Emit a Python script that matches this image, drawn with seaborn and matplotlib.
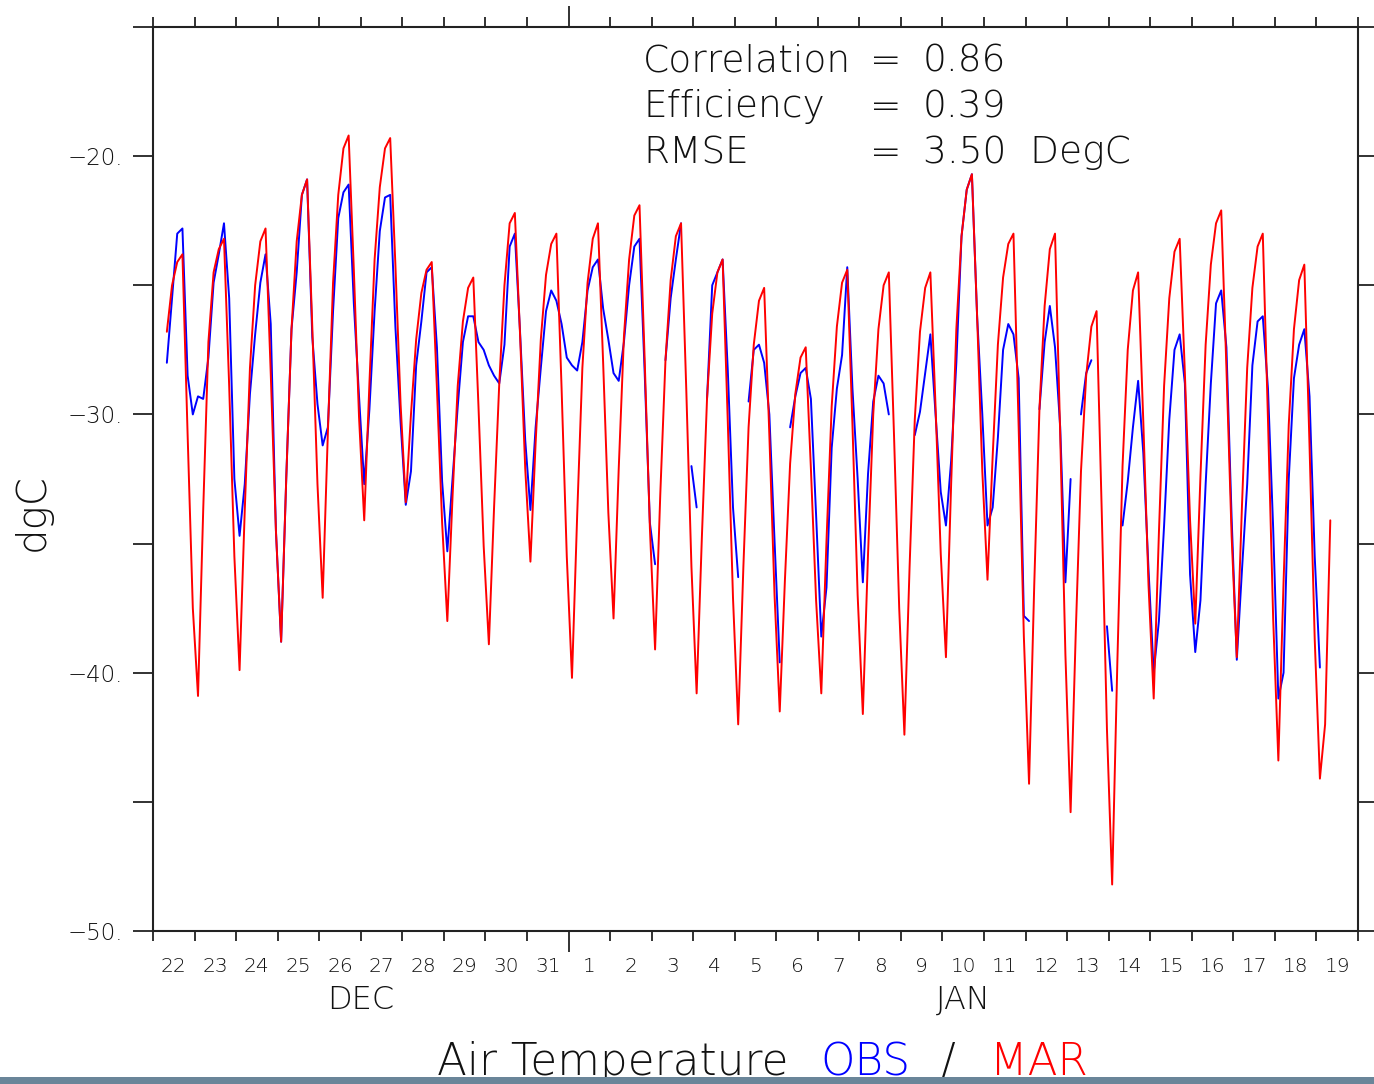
import numpy as np
import pandas as pd
import matplotlib
matplotlib.use("Agg")
import matplotlib.pyplot as plt
import seaborn as sns
from matplotlib.patches import Rectangle
from matplotlib.ticker import NullFormatter, FixedLocator, FixedFormatter

# ---------------- data (3-hourly readings, days counted from 22 Dec 00h) ----
hours_first_day = [8, 11, 14, 17, 20, 23]          # 22 Dec
hours_full_day = [2, 5, 8, 11, 14, 17, 20, 23]     # 23 Dec .. 18 Jan
hours_last_day = [2, 5, 8]                         # 19 Jan

# MAR model air temperature (degC)
mar_dec = [
    -26.8, -25.0, -24.1, -23.8, -30.8, -37.5,
    -40.9, -33.7, -27.2, -24.5, -23.6, -23.2, -28.9, -35.5,
    -39.9, -33.7, -28.2, -25.0, -23.3, -22.8, -28.4, -34.5,
    -38.8, -32.4, -26.7, -23.3, -21.5, -20.9, -26.6, -32.7,
    -37.1, -30.7, -24.9, -21.5, -19.7, -19.2, -24.4, -30.1,
    -34.1, -28.8, -24.0, -21.2, -19.7, -19.3, -24.2, -29.6,
    -33.4, -30.0, -27.1, -25.3, -24.4, -24.1, -29.0, -34.2,
    -38.0, -33.2, -28.9, -26.4, -25.1, -24.7, -29.7, -35.1,
    -38.9, -33.6, -28.8, -25.0, -22.6, -22.2, -26.9, -32.1,
    -35.7, -31.1, -27.1, -24.6, -23.4, -23.0, -29.0, -35.5,
]
mar_jan = [
    -40.2, -33.9, -28.2, -24.9, -23.2, -22.6, -28.0, -33.8,
    -37.9, -32.1, -27.0, -24.0, -22.3, -21.9, -27.9, -34.4,
    -39.1, -33.1, -27.9, -24.8, -23.1, -22.6, -29.0, -35.9,
    -40.8, -34.8, -29.4, -26.1, -24.5, -24.0, -30.3, -37.1,
    -42.0, -35.9, -30.5, -27.3, -25.6, -25.1, -30.8, -37.0,
    -41.5, -36.4, -31.9, -29.2, -27.8, -27.4, -32.1, -37.2,
    -40.8, -34.9, -29.7, -26.6, -24.9, -24.4, -30.4, -37.0,
    -41.6, -35.4, -30.0, -26.7, -25.0, -24.5, -30.8, -37.5,
    -42.4, -35.9, -30.2, -26.8, -25.1, -24.5, -29.7, -35.4,
    -39.4, -32.7, -26.7, -23.1, -21.3, -20.7, -26.2, -32.2,
    -36.4, -31.6, -27.3, -24.7, -23.4, -23.0, -30.5, -38.6,
    -44.3, -36.6, -29.8, -25.8, -23.6, -23.0, -30.8, -39.3,
    -45.4, -38.4, -32.2, -28.5, -26.6, -26.0, -33.8, -42.2,
    -48.2, -39.6, -32.0, -27.5, -25.2, -24.5, -30.3, -36.6,
    -41.0, -34.6, -28.9, -25.5, -23.7, -23.2, -28.4, -34.1,
    -38.1, -32.4, -27.3, -24.2, -22.6, -22.1, -28.2, -34.7,
    -39.4, -33.5, -28.2, -25.1, -23.5, -23.0, -30.2, -37.9,
    -43.4, -36.5, -30.4, -26.7, -24.8, -24.2, -31.2, -38.7,
    -44.1, -42.0, -34.1,
]

# Observed air temperature (degC), None = missing
obs_dec = [
    -28.0, -25.5, -23.0, -22.8, -28.5, -30.0,
    -29.3, -29.4, -27.8, -24.9, -23.8, -22.6, -25.5, -32.5,
    -34.7, -32.7, -29.2, -26.9, -24.9, -23.8, -26.5, -34.5,
    -38.8, -32.4, -26.7, -24.5, -21.5, -20.9, -27.0, -29.6,
    -31.2, -30.5, -26.0, -22.4, -21.4, -21.1, -25.7, -29.3,
    -32.7, -29.8, -26.0, -22.9, -21.6, -21.5, -26.6, -30.3,
    -33.5, -32.2, -28.1, -26.4, -24.5, -24.3, -27.4, -32.6,
    -35.3, -32.5, -29.7, -27.2, -26.2, -26.2, -27.2, -27.5,
    -28.1, -28.5, -28.8, -27.3, -23.5, -23.0, -26.8, -31.0,
    -33.7, -30.5, -28.2, -26.0, -25.2, -25.6, -26.5, -27.8,
]
obs_jan = [
    -28.1, -28.3, -27.2, -25.2, -24.3, -24.0, -25.9, -27.1,
    -28.4, -28.7, -27.2, -25.0, -23.5, -23.2, -28.4, -34.2,
    -35.8, None, -27.9, -25.5, -24.0, -22.6, None, -32.0,
    -33.6, None, -29.4, -25.0, -24.5, -24.0, -28.3, -33.6,
    -36.3, None, -29.5, -27.5, -27.3, -28.0, -30.0, -34.9,
    -39.6, None, -30.5, -29.3, -28.4, -28.2, -29.4, -33.9,
    -38.6, -36.7, -31.3, -29.0, -27.7, -24.3, -29.0, -32.5,
    -36.5, -32.3, -29.5, -28.5, -28.8, -30.0, None, None,
    None, None, -30.8, -29.9, -28.4, -26.9, -30.0, -33.0,
    -34.3, -31.8, -28.0, -23.1, -21.3, -20.7, -26.2, -30.0,
    -34.3, -33.6, -30.9, -27.5, -26.5, -26.9, -28.6, -37.8,
    -38.0, None, -29.8, -27.2, -25.8, -27.4, -30.5, -36.5,
    -32.5, None, -30.0, -28.4, -27.9, None, None, -38.2,
    -40.7, None, -34.3, -32.6, -30.5, -28.7, -31.5, -36.0,
    -40.0, -38.0, -34.3, -30.2, -27.5, -26.9, -28.8, -36.2,
    -39.2, -37.2, -32.7, -28.8, -25.7, -25.2, -27.4, -34.0,
    -39.5, -36.0, -32.7, -28.1, -26.4, -26.2, -29.0, -34.4,
    -41.0, -40.0, -32.5, -28.6, -27.3, -26.7, -29.3, -35.5,
    -39.8, None, None,
]

day_labels = ["22", "23", "24", "25", "26", "27", "28", "29", "30", "31",
              "1", "2", "3", "4", "5", "6", "7", "8", "9", "10",
              "11", "12", "13", "14", "15", "16", "17", "18", "19"]
month_labels = ["DEC", "JAN"]
y_label_values = [-50, -40, -30, -20]
y_label_texts = ["\u221250.", "\u221240.", "\u221230.", "\u221220."]
stat_names = ["Correlation", "Efficiency", "RMSE"]
stat_values = ["0.86", "0.39", "3.50  DegC"]
title_parts = ["Air Temperature", "OBS", "/", "MAR"]

# ---------------- build table ----------------
n_days = len(day_labels)
times = [h / 24 for h in hours_first_day]
for d in range(1, n_days - 1):
    times += [d + h / 24 for h in hours_full_day]
times += [(n_days - 1) + h / 24 for h in hours_last_day]

mar = np.array(mar_dec + mar_jan, dtype=float)
obs = np.array([np.nan if v is None else v for v in obs_dec + obs_jan], dtype=float)
df = pd.DataFrame({"t": times, "mar": mar, "obs": obs})
df["seg"] = np.cumsum(np.isnan(df["obs"].values))
obs_df = df.dropna(subset=["obs"])

# ---------------- figure ----------------
sns.set_style("white")
plt.rcParams["font.family"] = ["DejaVu Sans"]
TXT = "#111111"
FW = "light"
W, H = 1374, 1084
fig = plt.figure(figsize=(W / 100, H / 100), dpi=100)
fig.patch.set_facecolor("white")
ax = fig.add_axes([153 / W, 1 - 931 / H, 1205 / W, 904 / H])

sns.lineplot(data=obs_df, x="t", y="obs", units="seg", estimator=None,
             color="#0000ff", linewidth=1.4, ax=ax, legend=False)
sns.lineplot(data=df, x="t", y="mar", estimator=None,
             color="#ff0000", linewidth=1.4, ax=ax, legend=False)

ax.set_xlim(0, n_days)
ax.set_ylim(-50, -15)
ax.set_xlabel("")
ax.set_ylabel("")

for s in ax.spines.values():
    s.set_visible(True)
    s.set_linewidth(1.5)
    s.set_color("#222222")

# x ticks: long tick at the month boundary, short ticks at each day
month_break = day_labels.index("1")
ax.xaxis.set_major_locator(FixedLocator([month_break]))
ax.xaxis.set_minor_locator(FixedLocator([i for i in range(n_days + 1) if i != month_break]))
ax.xaxis.set_major_formatter(NullFormatter())
ax.xaxis.set_minor_formatter(NullFormatter())
ax.tick_params(axis="x", which="major", direction="out", length=15, width=1.3,
               color="#222222", top=True, bottom=True, labelbottom=False)
ax.tick_params(axis="x", which="minor", direction="out", length=7.5, width=1.3,
               color="#222222", top=True, bottom=True, labelbottom=False)

sec = ax.secondary_xaxis("bottom")
sec.xaxis.set_major_locator(FixedLocator([i + 0.5 for i in range(n_days)]))
sec.xaxis.set_major_formatter(FixedFormatter(day_labels))
sec.tick_params(length=0, pad=19, labelsize=14.5, colors=TXT)
sec.spines["bottom"].set_visible(False)
for lab in sec.get_xticklabels():
    lab.set_fontweight(FW)

ax.text(month_break / 2, -0.076, month_labels[0], transform=ax.get_xaxis_transform(),
        ha="center", va="center", fontsize=23, color=TXT, fontweight=FW)
ax.text((month_break + n_days) / 2, -0.076, month_labels[1], transform=ax.get_xaxis_transform(),
        ha="center", va="center", fontsize=23, color=TXT, fontweight=FW)

# y ticks
ax.yaxis.set_major_locator(FixedLocator(y_label_values))
ax.yaxis.set_major_formatter(FixedFormatter(y_label_texts))
ax.yaxis.set_minor_locator(FixedLocator([-45, -35, -25, -15]))
ax.tick_params(axis="y", which="both", direction="out", length=14.5, width=1.3,
               color="#222222", left=True, right=True)
ax.tick_params(axis="y", which="major", labelsize=16.5, pad=7, labelcolor=TXT)
for lab in ax.get_yticklabels():
    lab.set_fontweight(FW)

fig.text(32 / W, 1 - 512 / H, "dgC", rotation=90, ha="center", va="center",
         fontsize=29, color=TXT, fontweight=FW)

# statistics block
for i, (nm, val) in enumerate(zip(stat_names, stat_values)):
    yy = 1 - (61 + i * 46) / H
    fig.text(643 / W, yy, nm, ha="left", va="center", fontsize=27, color=TXT, fontweight=FW)
    fig.text(870 / W, yy, "=", ha="left", va="center", fontsize=27, color=TXT, fontweight=FW)
    fig.text(923 / W, yy, val, ha="left", va="center", fontsize=27, color=TXT, fontweight=FW)

# multi-coloured bottom title
title_colors = [TXT, "#0000ff", TXT, "#ff0000"]
title_x = [437, 820, 940, 990]
for txt, col, xp in zip(title_parts, title_colors, title_x):
    fig.text(xp / W, 9 / H, txt, ha="left", va="baseline", fontsize=31.5,
             color=col, fontweight=FW)

# screenshot strip at the bottom edge
fig.add_artist(Rectangle((0, 0), 1, 7 / H, transform=fig.transFigure,
                         facecolor="#6a8599", edgecolor="none", zorder=10))

fig.savefig("out.png", dpi=100, facecolor="white")
